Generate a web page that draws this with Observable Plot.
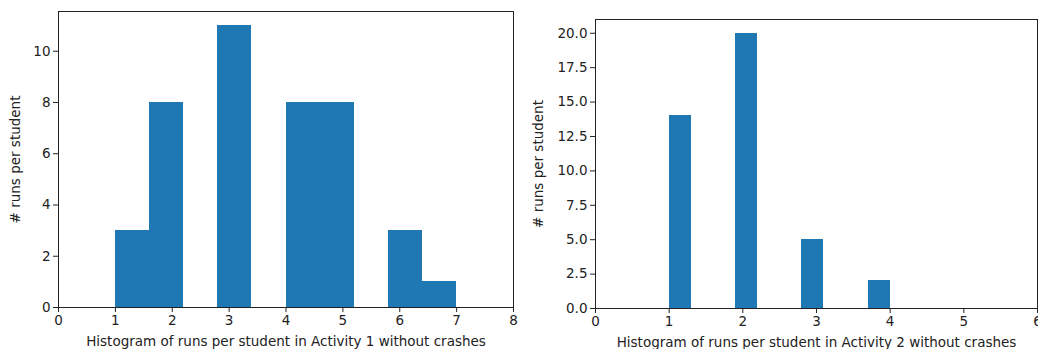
<!DOCTYPE html>
<html>
<head>
<meta charset="utf-8">
<script src="https://cdn.jsdelivr.net/npm/d3@7"></script>
<script src="https://cdn.jsdelivr.net/npm/@observablehq/plot@0.6"></script>
<style>
  html, body { margin: 0; padding: 0; background: #fff; overflow: hidden; }
  #wrap { position: relative; width: 1038px; height: 349px; overflow: hidden; }
  #left, #right { position: absolute; top: 0; }
  #left { left: 0; }
  #right { left: 520px; }
</style>
</head>
<body>
<div id="wrap"><div id="left"></div><div id="right"></div></div>
<script>
// Activity 1 histogram: bin edges and counts
const binEdges1 = [1, 1.6, 2.2, 2.8, 3.4, 4, 4.6, 5.2, 5.8, 6.4, 7];
const counts1 = [3, 8, 0, 11, 0, 8, 8, 0, 3, 1];
const xTicks1 = [0, 1, 2, 3, 4, 5, 6, 7, 8];
const yTicks1 = [0, 2, 4, 6, 8, 10];
const xLabel1 = "Histogram of runs per student in Activity 1 without crashes";

// Activity 2 histogram: bin edges and counts
const binEdges2 = [1, 1.3, 1.6, 1.9, 2.2, 2.5, 2.8, 3.1, 3.4, 3.7, 4];
const counts2 = [14, 0, 0, 20, 0, 0, 5, 0, 0, 2];
const xTicks2 = [0, 1, 2, 3, 4, 5, 6];
const yTicks2 = [0, 2.5, 5, 7.5, 10, 12.5, 15, 17.5, 20];
const xLabel2 = "Histogram of runs per student in Activity 2 without crashes";

const yLabel = "# runs per student";

function bins(edges, counts) {
  return counts.map((c, i) => ({x1: edges[i], x2: edges[i + 1], y: c})).filter(d => d.y > 0);
}

const font = {fontFamily: "'DejaVu Sans', sans-serif", fontSize: "13.5px", color: "#222", background: "#fff", overflow: "visible"};

function hist(opts) {
  return Plot.plot({
    width: opts.width,
    height: 349,
    marginLeft: opts.ml,
    marginRight: opts.mr,
    marginTop: opts.mt,
    marginBottom: opts.mb,
    style: font,
    x: {domain: opts.xDomain, ticks: opts.xTicks, tickSize: 5, tickPadding: 3, tickFormat: d3.format("d"),
        label: opts.xLabel, labelAnchor: "center", labelOffset: 38, labelArrow: "none"},
    y: {domain: opts.yDomain, ticks: opts.yTicks, tickSize: 5, tickPadding: 3, tickFormat: opts.yFormat,
        label: yLabel, labelAnchor: "center", labelOffset: opts.ylOffset, labelArrow: "none"},
    marks: [
      Plot.rectY(bins(opts.edges, opts.counts), {x1: "x1", x2: "x2", y: "y", fill: "#1f77b4",
        shapeRendering: "crispEdges"}),
      Plot.frame({stroke: "#222", strokeWidth: 1})
    ]
  });
}

document.getElementById("left").appendChild(hist({
  width: 520, ml: 58, mr: 7, mt: 11, mb: 42,
  xDomain: [0, 8], yDomain: [0, 11.55], xTicks: xTicks1, yTicks: yTicks1,
  yFormat: d3.format("d"), xLabel: xLabel1, ylOffset: 48,
  edges: binEdges1, counts: counts1
}));

document.getElementById("right").appendChild(hist({
  width: 518, ml: 75, mr: 1, mt: 19, mb: 41,
  xDomain: [0, 6], yDomain: [0, 21], xTicks: xTicks2, yTicks: yTicks2,
  yFormat: d3.format(".1f"), xLabel: xLabel2, ylOffset: 62,
  edges: binEdges2, counts: counts2
}));
</script>
</body>
</html>
